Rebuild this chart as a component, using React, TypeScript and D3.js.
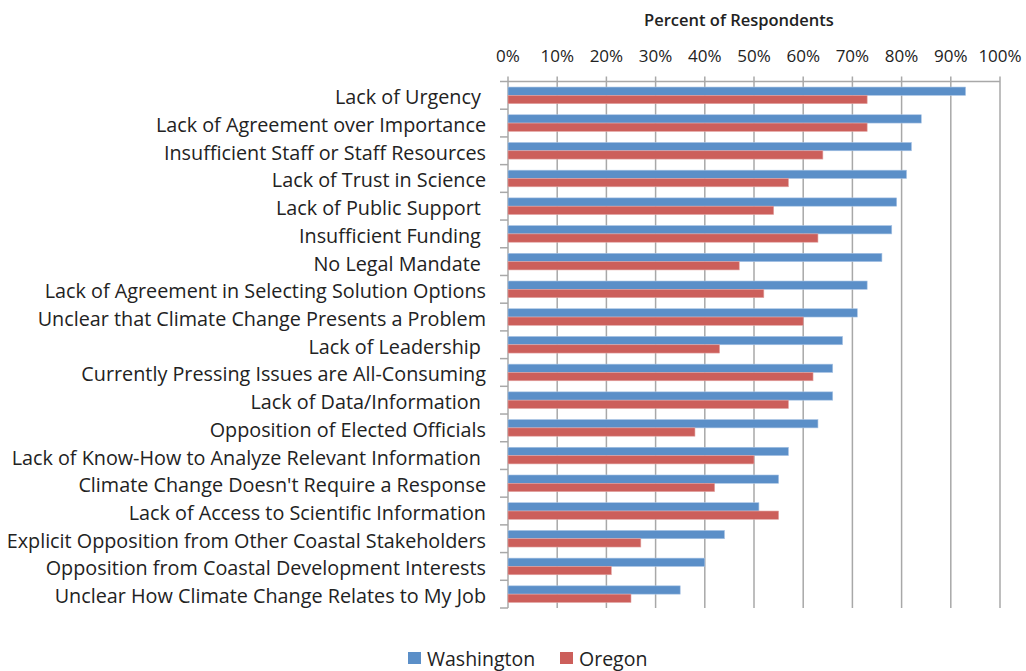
import React from "react";
import * as d3 from "d3";

const categories = [
  "Lack of Urgency ",
  "Lack of Agreement over Importance",
  "Insufficient Staff or Staff Resources",
  "Lack of Trust in Science",
  "Lack of Public Support ",
  "Insufficient Funding ",
  "No Legal Mandate ",
  "Lack of Agreement in Selecting Solution Options",
  "Unclear that Climate Change Presents a Problem",
  "Lack of Leadership ",
  "Currently Pressing Issues are All-Consuming",
  "Lack of Data/Information ",
  "Opposition of Elected Officials",
  "Lack of Know-How to Analyze Relevant Information ",
  "Climate Change Doesn't Require a Response",
  "Lack of Access to Scientific Information",
  "Explicit Opposition from Other Coastal Stakeholders",
  "Opposition from Coastal Development Interests",
  "Unclear How Climate Change Relates to My Job",
];

const washington = [93, 84, 82, 81, 79, 78, 76, 73, 71, 68, 66, 66, 63, 57, 55, 51, 44, 40, 35];
const oregon = [73, 73, 64, 57, 54, 63, 47, 52, 60, 43, 62, 57, 38, 50, 42, 55, 27, 21, 25];

const seriesNames = ["Washington", "Oregon"];
const seriesColors = ["#5b8fc8", "#cc5f5b"];
const xTicks = [0, 10, 20, 30, 40, 50, 60, 70, 80, 90, 100];

const FONT = "'Open Sans', Lato, sans-serif";

export default function App() {
  const W = 1026;
  const H = 671;
  const x = d3.scaleLinear().domain([0, 100]).range([508, 1000]);
  const y = d3.scaleBand<string>().domain(categories).range([81.5, 608]).paddingInner(0).paddingOuter(0);
  const sub = d3
    .scaleBand<string>()
    .domain(seriesNames)
    .range([0, y.bandwidth()])
    .paddingInner(0)
    .paddingOuter(0.667);
  const top = y.range()[0];
  const bottom = y.range()[1];
  const gridColor = "#a8a8a8";
  const values = [washington, oregon];
  const boundaries = categories.map((c) => y(c)!).concat([bottom]);

  return (
    <div style={{ position: "absolute", left: 0, top: 0 }}>
      <svg width={W} height={H} style={{ display: "block", background: "#fff" }}>
        <text x={739} y={26} textAnchor="middle" fontFamily={FONT} fontSize={16.5} fontWeight={600} fill="#222">
          Percent of Respondents
        </text>
        {xTicks.map((t) => (
          <text key={t} x={x(t)} y={62} textAnchor="middle" fontFamily={FONT} fontSize={17} fill="#222">
            {t}%
          </text>
        ))}
        {xTicks.map((t) => (
          <line key={"g" + t} x1={x(t)} x2={x(t)} y1={top - 5} y2={bottom} stroke={gridColor} strokeWidth={1.5} />
        ))}
        <line x1={x(0)} x2={x(100)} y1={top} y2={top} stroke={gridColor} strokeWidth={1.5} />
        {boundaries.map((b, i) => (
          <line key={"t" + i} x1={x(0) - 8} x2={x(0)} y1={b} y2={b} stroke={gridColor} strokeWidth={1.5} />
        ))}
        {categories.map((c, i) => (
          <g key={c}>
            {seriesNames.map((s, j) => (
              <rect
                key={s}
                x={x(0)}
                y={y(c)! + sub(s)!}
                width={x(values[j][i]) - x(0)}
                height={sub.bandwidth()}
                fill={seriesColors[j]}
                stroke={j === 0 ? "#a9c4e4" : "#e2a5a3"}
                strokeWidth={0.6}
              />
            ))}
          </g>
        ))}
        {categories.map((c) => (
          <text
            key={"l" + c}
            x={486}
            y={y(c)! + y.bandwidth() / 2 + 1.5}
            textAnchor="end"
            dominantBaseline="central"
            fontFamily={FONT}
            fontSize={19.8}
            fill="#222"
            style={{ whiteSpace: "pre" }}
          >
            {c}
          </text>
        ))}
        {seriesNames.map((s, j) => {
          const lx = [408, 560][j];
          return (
            <g key={"lg" + s}>
              <rect x={lx} y={652} width={13} height={12} fill={seriesColors[j]} />
              <text x={lx + 19} y={666} fontFamily={FONT} fontSize={19.5} fill="#222">
                {s}
              </text>
            </g>
          );
        })}
      </svg>
    </div>
  );
}
